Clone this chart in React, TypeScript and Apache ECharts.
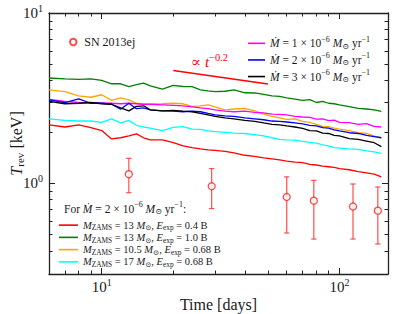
import React, { useEffect, useRef } from "react";
import * as echarts from "echarts";

// ---------- data ----------
const days = [6, 7, 8, 9, 10, 11, 12, 13, 14, 15, 16, 18, 20, 22, 24, 26, 28, 30, 33, 36, 40, 44, 48, 52, 56, 60, 65, 70, 75, 80, 85, 90, 95, 100, 110, 120, 130, 140, 150];

const tRevM13E04 = [2.20, 2.14, 2.20, 2.12, 2.04, 1.82, 1.85, 1.90, 1.95, 1.85, 1.80, 1.80, 1.73, 1.66, 1.62, 1.59, 1.57, 1.56, 1.54, 1.51, 1.46, 1.44, 1.41, 1.39, 1.37, 1.35, 1.33, 1.32, 1.29, 1.28, 1.26, 1.25, 1.24, 1.22, 1.20, 1.17, 1.15, 1.13, 1.09];
const tRevM13E10 = [4.15, 4.10, 4.08, 4.10, 4.02, 3.84, 3.84, 3.70, 3.79, 3.87, 3.73, 3.57, 3.76, 3.70, 3.69, 3.54, 3.49, 3.45, 3.47, 3.54, 3.40, 3.39, 3.33, 3.26, 3.24, 3.17, 3.12, 3.07, 3.10, 2.98, 3.03, 2.95, 2.93, 2.89, 2.82, 2.75, 2.73, 2.70, 2.64];
const tRevM105E068 = [3.54, 3.45, 3.26, 3.20, 3.31, 3.07, 3.17, 3.09, 2.95, 2.91, 2.91, 2.93, 2.95, 2.93, 2.83, 2.85, 2.89, 2.81, 2.70, 2.73, 2.75, 2.66, 2.55, 2.47, 2.42, 2.37, 2.39, 2.31, 2.28, 2.22, 2.16, 2.15, 2.11, 2.08, 2.04, 1.98, 1.96, 1.89, 1.85];
const tRevM17E068 = [2.39, 2.34, 2.32, 2.32, 2.28, 2.39, 2.26, 2.34, 2.19, 2.14, 2.11, 2.04, 2.13, 2.15, 2.08, 2.07, 2.03, 2.01, 1.99, 1.97, 1.96, 1.93, 1.90, 1.85, 1.81, 1.80, 1.79, 1.76, 1.74, 1.72, 1.68, 1.66, 1.62, 1.61, 1.59, 1.58, 1.55, 1.53, 1.50];
const tRevMdot1 = [3.11, 3.03, 2.98, 2.96, 2.96, 2.95, 2.93, 2.95, 2.93, 2.91, 2.91, 2.89, 2.87, 2.85, 2.81, 2.77, 2.74, 2.70, 2.65, 2.63, 2.65, 2.61, 2.59, 2.55, 2.54, 2.52, 2.47, 2.45, 2.44, 2.38, 2.39, 2.33, 2.35, 2.28, 2.27, 2.22, 2.24, 2.16, 2.14];
const tRevMdot2 = [3.09, 2.98, 3.13, 2.95, 2.95, 2.91, 2.72, 2.95, 2.74, 2.77, 2.70, 2.66, 2.65, 2.63, 2.65, 2.63, 2.57, 2.52, 2.49, 2.47, 2.42, 2.39, 2.36, 2.32, 2.31, 2.29, 2.26, 2.23, 2.19, 2.17, 2.12, 2.11, 2.06, 2.03, 1.98, 1.96, 1.91, 1.88, 1.85];
const tRevMdot3 = [3.03, 2.93, 2.95, 2.98, 2.93, 2.91, 2.77, 2.66, 2.83, 2.85, 2.70, 2.66, 2.68, 2.65, 2.63, 2.57, 2.52, 2.47, 2.42, 2.39, 2.34, 2.31, 2.26, 2.22, 2.20, 2.17, 2.14, 2.10, 2.04, 2.03, 1.97, 1.96, 1.91, 1.90, 1.83, 1.81, 1.77, 1.73, 1.64];

const obsDays = [13, 29, 60, 78, 114, 145];
const obsT = [1.13, 0.96, 0.83, 0.79, 0.73, 0.69];
const obsLow = [0.88, 0.71, 0.51, 0.47, 0.47, 0.44];
const obsHigh = [1.40, 1.22, 1.09, 1.04, 0.99, 0.95];

const slopeDays = [20, 50];
const slopeT = [4.6, 3.83];

const xRange = [6, 160];
const yRange = [0.293, 10];
const xMajorTicks = [10, 100];
const xMinorTicks = [7, 8, 9, 20, 30, 40, 50, 60, 70, 80, 90];
const yMajorTicks = [1, 10];
const yMinorTicks = [0.4, 0.5, 0.6, 0.7, 0.8, 0.9, 2, 3, 4, 5, 6, 7, 8, 9];

// ---------- styles ----------
const FONT = "'Liberation Serif', 'DejaVu Serif', serif";
const TXT = "#1a1a1a";
const AX = "#222222";

const richFor = (size: number, lh: number) => ({
  n: { fontFamily: FONT, fontSize: size, fontWeight: "normal", color: TXT, lineHeight: lh },
  i: { fontFamily: FONT, fontSize: size, fontWeight: "normal", fontStyle: "italic", color: TXT, lineHeight: lh },
  sup: { fontFamily: FONT, fontSize: size * 0.7, fontWeight: "normal", color: TXT, padding: [0, 0, size * 0.75, 0], lineHeight: lh },
  sub: { fontFamily: FONT, fontSize: size * 0.7, fontWeight: "normal", color: TXT, padding: [size * 0.5, 0, 0, 0], lineHeight: lh },
});

const legendLabels: Record<string, string> = {
  "Mdot 1e-6": "{i|Ṁ}{n| = 1 × 10}{sup|−6}{n| }{i|M}{sub|⊙}{n| yr}{sup|−1}",
  "Mdot 2e-6": "{i|Ṁ}{n| = 2 × 10}{sup|−6}{n| }{i|M}{sub|⊙}{n| yr}{sup|−1}",
  "Mdot 3e-6": "{i|Ṁ}{n| = 3 × 10}{sup|−6}{n| }{i|M}{sub|⊙}{n| yr}{sup|−1}",
  "M13 E0.4": "{i|M}{sub|ZAMS}{n| = 13 }{i|M}{sub|⊙}{n|, }{i|E}{sub|exp}{n| = 0.4 B}",
  "M13 E1.0": "{i|M}{sub|ZAMS}{n| = 13 }{i|M}{sub|⊙}{n|, }{i|E}{sub|exp}{n| = 1.0 B}",
  "M10.5 E0.68": "{i|M}{sub|ZAMS}{n| = 10.5 }{i|M}{sub|⊙}{n|, }{i|E}{sub|exp}{n| = 0.68 B}",
  "M17 E0.68": "{i|M}{sub|ZAMS}{n| = 17 }{i|M}{sub|⊙}{n|, }{i|E}{sub|exp}{n| = 0.68 B}",
};

const models = [
  { name: "M13 E0.4", color: "#ff0000", values: tRevM13E04 },
  { name: "M13 E1.0", color: "#008000", values: tRevM13E10 },
  { name: "M10.5 E0.68", color: "#ffa500", values: tRevM105E068 },
  { name: "M17 E0.68", color: "#00ffff", values: tRevM17E068 },
  { name: "Mdot 1e-6", color: "#ff00ff", values: tRevMdot1 },
  { name: "Mdot 2e-6", color: "#0000ff", values: tRevMdot2 },
  { name: "Mdot 3e-6", color: "#000000", values: tRevMdot3 },
];

const powLabel = (v: number) => "{b|10}{s|" + Math.round(Math.log10(v)) + "}";
const tickRich = {
  b: { fontFamily: FONT, fontSize: 15, color: TXT, lineHeight: 16 },
  s: { fontFamily: FONT, fontSize: 10, color: TXT, padding: [0, 0, 10, 0], lineHeight: 16 },
};

// main data axis (true log axis, carries labels and the axis title)
function dataAxis(isX: boolean) {
  const ax: any = {
    type: "log",
    logBase: 10,
    min: isX ? xRange[0] : yRange[0],
    max: isX ? xRange[1] : yRange[1],
    position: isX ? "bottom" : "left",
    axisLine: { show: true, onZero: false, lineStyle: { color: AX, width: 1.3 } },
    axisTick: { show: false },
    axisLabel: {
      show: true,
      customValues: isX ? xMajorTicks : yMajorTicks,
      margin: isX ? 5 : 6,
      formatter: powLabel,
      rich: tickRich,
    },
    splitLine: { show: false },
    minorTick: { show: false },
    minorSplitLine: { show: false },
    silent: true,
    nameLocation: "middle",
    nameMoveOverlap: false,
  };
  if (isX) {
    ax.name = "Time [days]";
    ax.nameGap = 22;
    ax.nameTextStyle = { fontFamily: FONT, fontSize: 16, color: TXT };
  } else {
    ax.name = "{i|T}{sub|rev}{n| [keV]}";
    ax.nameRotate = 90;
    ax.nameGap = 24;
    ax.nameTextStyle = { fontFamily: FONT, fontSize: 16, color: TXT, rich: richFor(16, 18) };
  }
  return ax;
}

// tick-only axes in log10 space (same extent as the log axis)
function tickAxis(isX: boolean, position: string, major: boolean, showLine: boolean) {
  const range = isX ? xRange : yRange;
  const ticks = major ? (isX ? xMajorTicks : yMajorTicks) : isX ? xMinorTicks : yMinorTicks;
  return {
    type: "value",
    min: Math.log10(range[0]),
    max: Math.log10(range[1]),
    position,
    axisLine: { show: showLine, onZero: false, lineStyle: { color: AX, width: 1.3 } },
    axisTick: {
      show: true,
      inside: true,
      length: major ? 6 : 3.5,
      customValues: ticks.map((t) => Math.log10(t)),
      lineStyle: { color: AX, width: 1 },
    },
    axisLabel: { show: false },
    splitLine: { show: false },
    silent: true,
  };
}

export default function App() {
  const ref = useRef<HTMLDivElement>(null);

  useEffect(() => {
    if (!ref.current) return;
    const chart = echarts.init(ref.current, undefined, { renderer: "svg" });

    const lineSeries = models.map((m) => ({
      type: "line",
      name: m.name,
      data: days.map((d, i) => [d, m.values[i]]),
      symbol: "none",
      showSymbol: false,
      lineStyle: { color: m.color, width: 1.3 },
      itemStyle: { color: m.color },
      xAxisIndex: 0,
      yAxisIndex: 0,
      silent: true,
    }));

    const option: any = {
      animation: false,
      backgroundColor: "#ffffff",
      grid: { left: 49, right: 7, top: 13, bottom: 40, containLabel: false, outerBoundsMode: "none" },
      xAxis: [
        dataAxis(true),
        tickAxis(true, "bottom", true, false),
        tickAxis(true, "bottom", false, false),
        tickAxis(true, "top", true, true),
        tickAxis(true, "top", false, false),
      ],
      yAxis: [
        dataAxis(false),
        tickAxis(false, "left", true, false),
        tickAxis(false, "left", false, false),
        tickAxis(false, "right", true, true),
        tickAxis(false, "right", false, false),
      ],
      title: {
        text: "{n|For }{i|Ṁ}{n| = 2 × 10}{sup|−6}{n| }{i|M}{sub|⊙}{n| yr}{sup|−1}{n|:}",
        left: 64,
        top: 203,
        padding: 0,
        textStyle: { fontFamily: FONT, fontSize: 11.5, fontWeight: "normal", color: TXT, rich: richFor(11.5, 12) },
      },
      legend: [
        {
          data: ["SN 2013ej"],
          left: 69,
          top: 36,
          padding: 0,
          orient: "vertical",
          itemWidth: 12,
          itemHeight: 6.5,
          selectedMode: false,
          textStyle: { fontFamily: FONT, fontSize: 12, color: TXT },
        },
        {
          data: ["Mdot 1e-6", "Mdot 2e-6", "Mdot 3e-6"],
          left: 248,
          top: 35,
          padding: 0,
          orient: "vertical",
          icon: "rect",
          itemWidth: 17,
          itemHeight: 1.6,
          itemGap: 0,
          selectedMode: false,
          formatter: (n: string) => legendLabels[n] || n,
          textStyle: { fontFamily: FONT, fontSize: 11.5, color: TXT, lineHeight: 10.5, rich: richFor(11.5, 10.5) },
        },
        {
          data: ["M13 E0.4", "M13 E1.0", "M10.5 E0.68", "M17 E0.68"],
          left: 59,
          top: 219,
          padding: 0,
          orient: "vertical",
          icon: "rect",
          itemWidth: 19,
          itemHeight: 1.6,
          itemGap: 0,
          selectedMode: false,
          formatter: (n: string) => legendLabels[n] || n,
          textStyle: { fontFamily: FONT, fontSize: 10.5, color: TXT, lineHeight: 11, rich: richFor(10.5, 11) },
        },
      ],
      graphic: [
        {
          type: "text",
          left: 191,
          top: 52,
          silent: true,
          style: {
            text: "{a|∝ }{i|t}{s|−0.2}",
            rich: {
              a: { fontFamily: FONT, fontSize: 15, fill: "#ff0000", lineHeight: 18 },
              i: { fontFamily: FONT, fontSize: 15, fontStyle: "italic", fill: "#ff0000", lineHeight: 18 },
              s: { fontFamily: FONT, fontSize: 10.5, fill: "#ff0000", padding: [0, 0, 9, 0], lineHeight: 18 },
            },
          },
        },
      ],
      series: [
        ...lineSeries,
        {
          type: "line",
          name: "slope",
          data: slopeDays.map((d, i) => [d, slopeT[i]]),
          symbol: "none",
          lineStyle: { color: "#ff0000", width: 1.5 },
          itemStyle: { color: "#ff0000" },
          silent: true,
        },
        {
          type: "custom",
          name: "SN 2013ej errors",
          data: obsDays.map((d, i) => [d, obsLow[i], obsHigh[i]]),
          encode: { x: 0, y: [1, 2] },
          silent: true,
          z: 3,
          renderItem: (params: any, api: any) => {
            const lo = api.coord([api.value(0), api.value(1)]);
            const hi = api.coord([api.value(0), api.value(2)]);
            const cap = 2.6;
            const style = { stroke: "#ff3b3b", lineWidth: 1.2, opacity: 0.9 };
            return {
              type: "group",
              children: [
                { type: "line", shape: { x1: lo[0], y1: lo[1], x2: hi[0], y2: hi[1] }, style },
                { type: "line", shape: { x1: lo[0] - cap, y1: lo[1], x2: lo[0] + cap, y2: lo[1] }, style },
                { type: "line", shape: { x1: hi[0] - cap, y1: hi[1], x2: hi[0] + cap, y2: hi[1] }, style },
              ],
            };
          },
        },
        {
          type: "scatter",
          name: "SN 2013ej",
          data: obsDays.map((d, i) => [d, obsT[i]]),
          symbol: "circle",
          symbolSize: 7,
          itemStyle: { color: "#ffffff", borderColor: "#ff1a1a", borderWidth: 1.3 },
          z: 4,
          silent: true,
        },
      ],
    };

    chart.setOption(option);
    return () => chart.dispose();
  }, []);

  return (
    <div
      ref={ref}
      style={{ position: "fixed", left: 0, top: 0, width: 395, height: 314, background: "#fff" }}
    />
  );
}
